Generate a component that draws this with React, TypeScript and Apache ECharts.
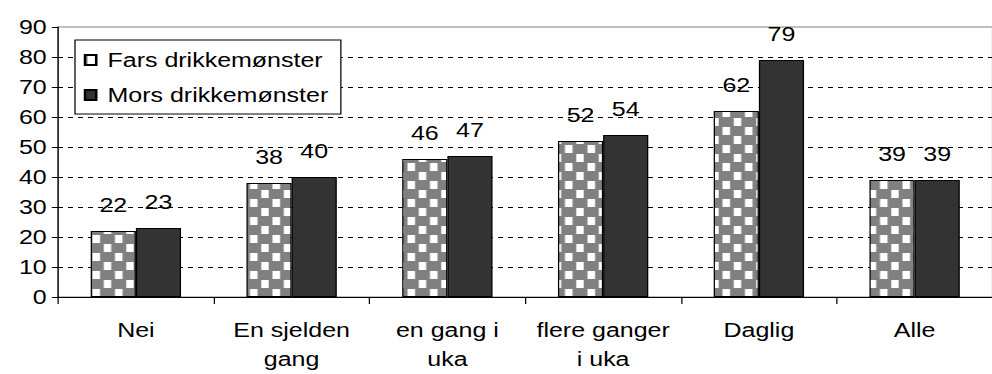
import React, { useEffect, useRef } from "react";
import * as echarts from "echarts";

const categories = ["Nei", "En sjelden\ngang", "en gang i\nuka", "flere ganger\ni uka", "Daglig", "Alle"];
const farsValues = [22, 38, 46, 52, 62, 39];
const morsValues = [23, 40, 47, 54, 79, 39];
const seriesNames = ["Fars drikkemønster", "Mors drikkemønster"];

const SX = 1.25; // horizontal stretch of the reference picture
const FONT = "'Liberation Sans', Arial, Helvetica, sans-serif";

function makePattern(): HTMLCanvasElement {
  const c = document.createElement("canvas");
  c.width = 18;
  c.height = 18;
  const ctx = c.getContext("2d")!;
  ctx.fillStyle = "#808080";
  ctx.fillRect(0, 0, 18, 18);
  ctx.fillStyle = "#ffffff";
  ctx.fillRect(2, 1, 6, 8);
  ctx.fillRect(11, 10, 6, 8);
  return c;
}

export default function App() {
  const ref = useRef<HTMLDivElement>(null);
  useEffect(() => {
    if (!ref.current) return;
    const W = Math.round(992 / SX);
    const chart = echarts.init(ref.current, null, { renderer: "svg", width: W, height: 374 });
    const pattern = makePattern();
    const labelStyle = {
      show: true,
      position: "top" as const,
      distance: 16,
      color: "#000",
      fontSize: 20,
      fontFamily: FONT,
    };
    chart.setOption({
      animation: false,
      backgroundColor: "#ffffff",
      textStyle: { fontFamily: FONT },
      grid: {
        left: 58 / SX,
        top: 27,
        width: 948 / SX,
        height: 270,
        show: true,
        borderColor: "#808080",
        borderWidth: 1,
        backgroundColor: "transparent",
      },
      legend: {
        orient: "vertical",
        left: 60,
        top: 40,
        padding: [10, 10, 9, 7],
        itemGap: 15,
        itemWidth: 9,
        itemHeight: 10,
        icon: "rect",
        borderColor: "#000",
        borderWidth: 1,
        backgroundColor: "#fff",
        data: seriesNames,
        textStyle: { fontSize: 20, color: "#000", fontFamily: FONT, padding: [0, 0, 0, 4] },
      },
      xAxis: {
        type: "category",
        data: categories,
        axisLine: { lineStyle: { color: "#000", width: 1 } },
        axisTick: { show: true, length: 7, lineStyle: { color: "#000" } },
        axisLabel: {
          color: "#000",
          fontSize: 20,
          fontFamily: FONT,
          margin: 19,
          lineHeight: 29,
          interval: 0,
        },
      },
      yAxis: {
        type: "value",
        min: 0,
        max: 90,
        interval: 10,
        axisLine: { show: true, lineStyle: { color: "#000", width: 1 } },
        axisTick: { show: true, length: 5, lineStyle: { color: "#000" } },
        axisLabel: { color: "#000", fontSize: 20, fontFamily: FONT, margin: 9 },
        splitLine: {
          show: true,
          showMaxLine: false,
          lineStyle: { color: "#000", type: [4, 4], width: 1 },
        },
      },
      series: [
        {
          name: seriesNames[0],
          type: "bar",
          data: farsValues,
          barGap: "0%",
          barCategoryGap: "42%",
          itemStyle: {
            color: { image: pattern, repeat: "repeat" },
            borderColor: "#000",
            borderWidth: 1,
          },
          label: labelStyle,
        },
        {
          name: seriesNames[1],
          type: "bar",
          data: morsValues,
          barGap: "0%",
          barCategoryGap: "42%",
          itemStyle: { color: "#333333", borderColor: "#000", borderWidth: 1 },
          label: labelStyle,
        },
      ],
    });
    return () => chart.dispose();
  }, []);
  return (
    <div
      style={{
        position: "fixed",
        left: 0,
        top: 0,
        width: 992,
        height: 374,
        overflow: "hidden",
        background: "#fff",
      }}
    >
      <div
        ref={ref}
        style={{
          width: Math.round(992 / SX),
          height: 374,
          transform: `scaleX(${SX})`,
          transformOrigin: "0 0",
        }}
      />
    </div>
  );
}
